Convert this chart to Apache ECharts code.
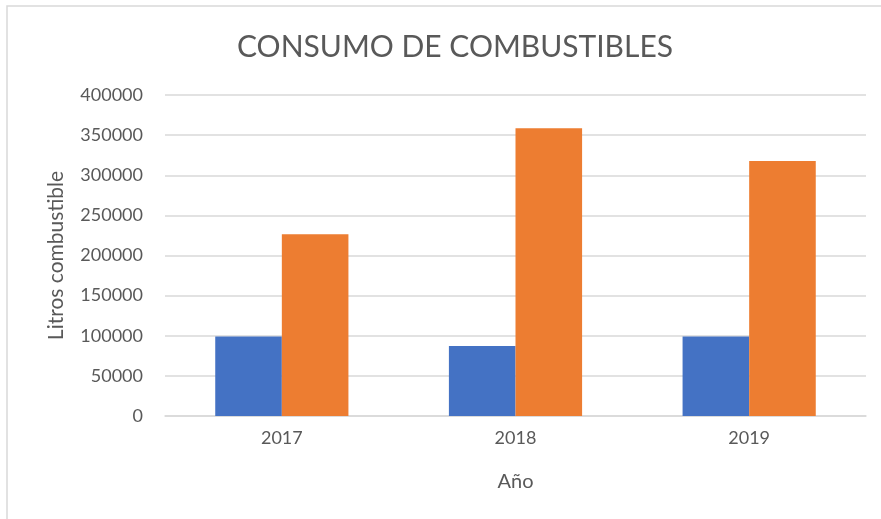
<!DOCTYPE html>
<html>
<head>
<meta charset="utf-8">
<script src="https://cdn.jsdelivr.net/npm/echarts@6/dist/echarts.min.js"></script>
<style>
  html, body { margin: 0; padding: 0; background: #fff; }
  #chart { width: 881px; height: 519px; }
</style>
</head>
<body>
<div id="chart"></div>
<script>
// data
const years = ["2017", "2018", "2019"];
const serieAzul = [99000, 87300, 99000];
const serieNaranja = [226600, 358500, 317700];

const textColor = "#595959";
const font = "Lato, 'Open Sans', sans-serif";

let chartDom = document.getElementById("chart");
let myChart = echarts.init(chartDom, null, { renderer: "canvas" });

let option = {
  backgroundColor: "#fff",
  animation: false,
  title: {
    text: "CONSUMO DE COMBUSTIBLES",
    left: 450,
    top: 27,
    textAlign: "center",
    textStyle: {
      fontFamily: font,
      fontSize: 30,
      fontWeight: "normal",
      color: textColor,
    },
  },
  graphic: [
    {
      type: "rect",
      shape: { x: 7, y: 6, width: 900, height: 600 },
      style: { fill: "none", stroke: "#d9d9d9", lineWidth: 1.5 },
      z: -1,
    },
  ],
  grid: {
    left: 165,
    right: 15,
    top: 95,
    bottom: 103,
  },
  xAxis: {
    type: "category",
    data: years,
    name: "Año",
    nameLocation: "middle",
    nameGap: 56,
    nameTextStyle: { fontFamily: font, fontSize: 20, color: textColor },
    axisLine: { lineStyle: { color: "#d9d9d9", width: 1.5 } },
    axisTick: { show: false },
    axisLabel: {
      fontFamily: font,
      fontSize: 18,
      color: textColor,
      margin: 13,
    },
  },
  yAxis: {
    type: "value",
    min: 0,
    max: 400000,
    interval: 50000,
    name: "Litros combustible",
    nameLocation: "middle",
    nameGap: 98,
    nameTextStyle: { fontFamily: font, fontSize: 21, color: textColor },
    axisLine: { show: false },
    axisTick: { show: false },
    axisLabel: {
      fontFamily: font,
      fontSize: 18,
      color: textColor,
      margin: 22,
      formatter: function (v) {
        return String(v);
      },
    },
    splitLine: { lineStyle: { color: "#d9d9d9", width: 1.5 } },
  },
  series: [
    {
      type: "bar",
      data: serieAzul,
      itemStyle: { color: "#4472c4" },
      barGap: "0%",
      barCategoryGap: "43%",
    },
    {
      type: "bar",
      data: serieNaranja,
      itemStyle: { color: "#ed7d31" },
      barGap: "0%",
      barCategoryGap: "43%",
    },
  ],
};
myChart.setOption(option);
</script>
</body>
</html>
